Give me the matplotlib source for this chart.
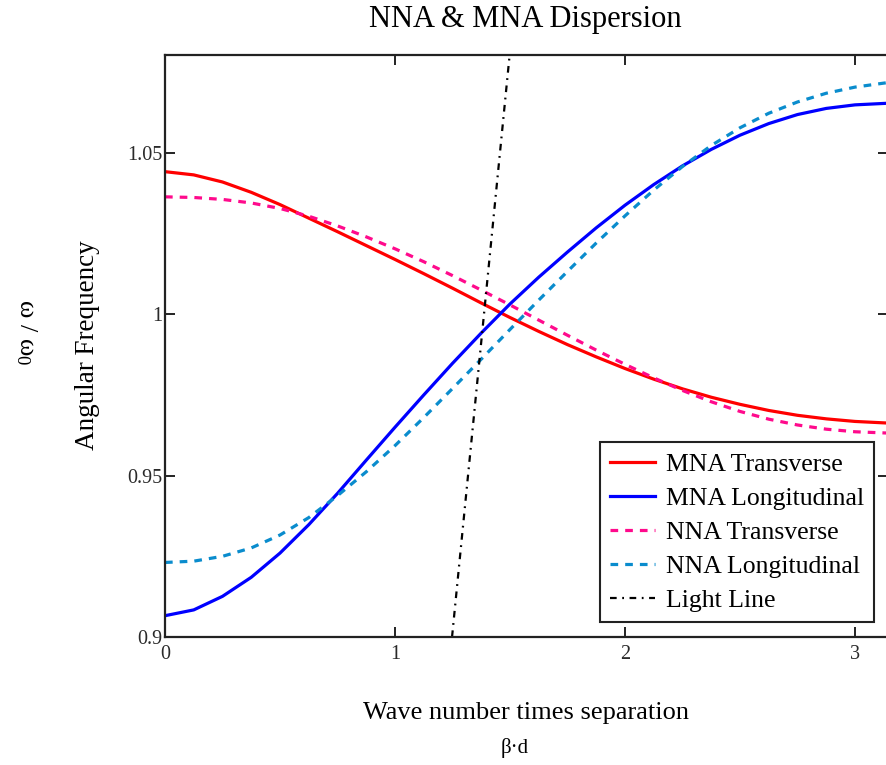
import numpy as np
import matplotlib
matplotlib.use("Agg")
import matplotlib.pyplot as plt

plt.rcParams['font.family'] = ['Liberation Serif', 'DejaVu Serif']
plt.rcParams['mathtext.fontset'] = 'custom'
plt.rcParams['mathtext.rm'] = 'Liberation Serif'
plt.rcParams['mathtext.it'] = 'Liberation Serif'

# beta*d sample points (0 .. pi)
bd = [0.0, 0.125, 0.25, 0.375, 0.5, 0.625, 0.75, 0.875, 1.0, 1.125, 1.25, 1.375,
      1.5, 1.625, 1.75, 1.875, 2.0, 2.125, 2.25, 2.375, 2.5, 2.625, 2.75, 2.875,
      3.0, np.pi]

# normalised angular frequency w/w0 for each model
mna_trans = [1.0442, 1.0432, 1.0410, 1.0378, 1.0340, 1.0298, 1.0256, 1.0213,
             1.0170, 1.0126, 1.0081, 1.0035, 0.9990, 0.9947, 0.9906, 0.9868,
             0.9832, 0.9799, 0.9769, 0.9743, 0.9721, 0.9702, 0.9687, 0.9676,
             0.9668, 0.9663]
mna_long = [0.9066, 0.9084, 0.9126, 0.9185, 0.9260, 0.9348, 0.9445, 0.9548,
            0.9650, 0.9750, 0.9848, 0.9942, 1.0032, 1.0115, 1.0193, 1.0268,
            1.0338, 1.0402, 1.0460, 1.0511, 1.0555, 1.0591, 1.0619, 1.0638,
            1.0649, 1.0654]
nna_trans = [1.0364, 1.0362, 1.0356, 1.0345, 1.0328, 1.0304, 1.0274, 1.0240,
             1.0203, 1.0163, 1.0120, 1.0075, 1.0029, 0.9982, 0.9935, 0.9889,
             0.9845, 0.9803, 0.9764, 0.9729, 0.9699, 0.9675, 0.9657, 0.9644,
             0.9636, 0.9632]
nna_long = [0.9231, 0.9235, 0.9250, 0.9276, 0.9316, 0.9370, 0.9438, 0.9512,
            0.9593, 0.9680, 0.9770, 0.9861, 0.9953, 1.0044, 1.0133, 1.0221,
            1.0305, 1.0385, 1.0458, 1.0523, 1.0578, 1.0623, 1.0658, 1.0685,
            1.0704, 1.0718]

# light line end points
light_bd = [1.248, 1.500]
light_w = [0.900, 1.0815]

fig = plt.figure(figsize=(8.86, 7.65), dpi=100)
ax = fig.add_axes([165 / 886, 1 - 637 / 765, (230 * np.pi) / 886, (637 - 55) / 765])

ax.plot(bd, mna_trans, color='#ff0000', lw=2.3, label='MNA Transverse')
ax.plot(bd, mna_long, color='#0000ff', lw=2.3, label='MNA Longitudinal')
ax.plot(bd, nna_trans, color='#ff0a8c', lw=2.3, dashes=(2.4, 2.2), label='NNA Transverse')
ax.plot(bd, nna_long, color='#0a8ccd', lw=2.3, dashes=(2.4, 2.2), label='NNA Longitudinal')
ax.plot(light_bd, light_w, color='black', lw=1.6, dashes=(3, 2.5, 0.8, 2.5), label='Light Line')

ax.set_xlim(0, np.pi)
ax.set_ylim(0.9, 0.9 + 582 / 3227)
ax.set_xticks([0, 1, 2, 3])
ax.set_xticklabels(['0', '1', '2', '3'])
ax.set_yticks([0.9, 0.95, 1.0, 1.05])
ax.set_yticklabels(['0.9', '0.95', '1', '1.05'])
ax.tick_params(direction='in', length=7, width=1.4, color='#222222',
               top=True, right=True, labelsize=14.5, labelcolor='#2a2a2a', pad=2)
ax.tick_params(axis='x', pad=6)
for s in ax.spines.values():
    s.set_linewidth(1.6)
    s.set_color('#222222')

leg = ax.legend(loc='lower right', bbox_to_anchor=(874 / 886, 1 - 622 / 765),
                bbox_transform=fig.transFigure, fontsize=18.5, frameon=True,
                fancybox=False, framealpha=1, edgecolor='#222222',
                handlelength=1.75, handletextpad=0.4, labelspacing=0.43,
                borderpad=0.4, borderaxespad=0)
leg.get_frame().set_linewidth(1.5)

fig.text(525 / 886, 1 - 20 / 765, 'NNA & MNA Dispersion', fontsize=22,
         ha='center', va='center')
fig.text(526 / 886, 1 - 713 / 765, 'Wave number times separation', fontsize=19,
         ha='center', va='center')
fig.text(515 / 886, 1 - 748 / 765, 'β·d', fontsize=15, ha='center', va='center')
fig.text(88 / 886, 1 - 345 / 765, 'Angular Frequency', fontsize=19.5,
         rotation=90, ha='center', va='center')
fig.text(26 / 886, 1 - 332 / 765, r'$\omega\ /\ \omega_0$', fontsize=19,
         rotation=-90, ha='center', va='center')

fig.savefig('out.png', dpi=100)
